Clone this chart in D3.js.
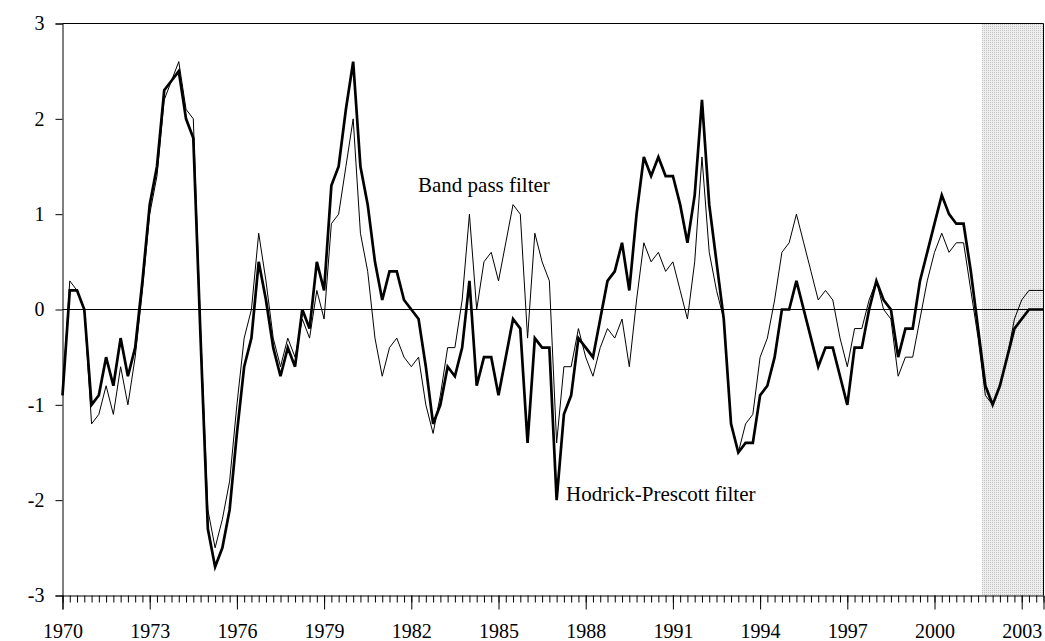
<!DOCTYPE html>
<html lang="en">
<head>
    <meta charset="UTF-8">
    <title>Band pass vs Hodrick-Prescott filter</title>
    <style>
        body { margin: 0; background: #fff; }
        svg text { font-family: "Liberation Serif", "Times New Roman", serif; fill: #000; }
    </style>
</head>
<body>
    <div id="chart"></div>
    <script src="https://d3js.org/d3.v7.min.js"></script>
    <script>
        // Quarterly series, first point 1970Q1
        const startYear = 1970;
        const hodrickPrescott = [
            -0.9, 0.2, 0.2, 0.0, -1.0, -0.9, -0.5, -0.8, -0.3, -0.7, -0.4, 0.3,
            1.1, 1.5, 2.3, 2.4, 2.5, 2.0, 1.8, -0.3, -2.3, -2.7, -2.5, -2.1,
            -1.3, -0.6, -0.3, 0.5, 0.1, -0.4, -0.7, -0.4, -0.6, 0.0, -0.2, 0.5,
            0.2, 1.3, 1.5, 2.1, 2.6, 1.5, 1.1, 0.5, 0.1, 0.4, 0.4, 0.1,
            0.0, -0.1, -0.6, -1.2, -1.0, -0.6, -0.7, -0.4, 0.3, -0.8, -0.5, -0.5,
            -0.9, -0.5, -0.1, -0.2, -1.4, -0.3, -0.4, -0.4, -2.0, -1.1, -0.9, -0.3,
            -0.4, -0.5, -0.1, 0.3, 0.4, 0.7, 0.2, 1.0, 1.6, 1.4, 1.6, 1.4,
            1.4, 1.1, 0.7, 1.2, 2.2, 1.1, 0.5, -0.1, -1.2, -1.5, -1.4, -1.4,
            -0.9, -0.8, -0.5, 0.0, 0.0, 0.3, 0.0, -0.3, -0.6, -0.4, -0.4, -0.7,
            -1.0, -0.4, -0.4, 0.0, 0.3, 0.1, 0.0, -0.5, -0.2, -0.2, 0.3, 0.6,
            0.9, 1.2, 1.0, 0.9, 0.9, 0.4, -0.2, -0.8, -1.0, -0.8, -0.5, -0.2,
            -0.1, 0.0, 0.0, 0.0
        ];
        const bandPass = [
            -0.9, 0.3, 0.2, 0.0, -1.2, -1.1, -0.8, -1.1, -0.6, -1.0, -0.5, 0.2,
            1.0, 1.4, 2.2, 2.4, 2.6, 2.1, 2.0, -0.2, -2.1, -2.5, -2.2, -1.8,
            -1.0, -0.3, 0.0, 0.8, 0.3, -0.3, -0.6, -0.3, -0.5, -0.1, -0.3, 0.2,
            -0.1, 0.9, 1.0, 1.5, 2.0, 0.8, 0.4, -0.3, -0.7, -0.4, -0.3, -0.5,
            -0.6, -0.5, -1.0, -1.3, -0.9, -0.4, -0.4, 0.1, 1.0, 0.0, 0.5, 0.6,
            0.3, 0.7, 1.1, 1.0, -0.3, 0.8, 0.5, 0.3, -1.4, -0.6, -0.6, -0.2,
            -0.5, -0.7, -0.4, -0.2, -0.3, -0.1, -0.6, 0.1, 0.7, 0.5, 0.6, 0.4,
            0.5, 0.2, -0.1, 0.5, 1.6, 0.6, 0.2, -0.1, -1.2, -1.5, -1.2, -1.1,
            -0.5, -0.3, 0.1, 0.6, 0.7, 1.0, 0.7, 0.4, 0.1, 0.2, 0.1, -0.3,
            -0.6, -0.2, -0.2, 0.1, 0.3, 0.0, -0.1, -0.7, -0.5, -0.5, -0.1, 0.3,
            0.6, 0.8, 0.6, 0.7, 0.7, 0.2, -0.3, -0.9, -1.0, -0.8, -0.5, -0.1,
            0.1, 0.2, 0.2, 0.2
        ];
        const yearLabels = [1970, 1973, 1976, 1979, 1982, 1985, 1988, 1991, 1994, 1997, 2000, 2003];
        const yTicks = [-3, -2, -1, 0, 1, 2, 3];
        const forecastStart = 2001.625;

        const width = 1045;
        const height = 641;
        const m = { left: 62.5, right: 1043.5, top: 23.5, bottom: 595.5 };

        const dates = hodrickPrescott.map((d, i) => startYear + i / 4);
        const lastDate = dates[dates.length - 1];

        const svg = d3.select("#chart").append("svg")
            .attr("width", width)
            .attr("height", height);

        const x = d3.scaleLinear().domain([startYear, lastDate]).range([m.left, m.right]);
        const y = d3.scaleLinear().domain([-3, 3]).range([m.bottom, m.top]);

        // stippled shading for the forecast period
        const pat = svg.append("defs").append("pattern")
            .attr("id", "stipple")
            .attr("width", 2).attr("height", 2)
            .attr("patternUnits", "userSpaceOnUse");
        pat.append("rect").attr("width", 2).attr("height", 2).attr("fill", "#eeeeee");
        pat.append("rect").attr("width", 1).attr("height", 1).attr("fill", "#c4c4c4");

        svg.append("rect")
            .attr("x", Math.round(x(forecastStart)))
            .attr("y", m.top)
            .attr("width", m.right - Math.round(x(forecastStart)))
            .attr("height", m.bottom - m.top)
            .attr("fill", "url(#stipple)");

        // zero line
        svg.append("line")
            .attr("x1", m.left).attr("x2", m.right)
            .attr("y1", y(0)).attr("y2", y(0))
            .attr("stroke", "#000").attr("stroke-width", 1);

        const line = d3.line()
            .x((d, i) => x(dates[i]))
            .y(d => y(d));

        svg.append("path")
            .datum(bandPass)
            .attr("d", line)
            .attr("fill", "none")
            .attr("stroke", "#000")
            .attr("stroke-width", 1);

        svg.append("path")
            .datum(hodrickPrescott)
            .attr("d", line)
            .attr("fill", "none")
            .attr("stroke", "#000")
            .attr("stroke-width", 2.7);

        // frame (top and right)
        svg.append("path")
            .attr("d", `M${m.left},${m.top}H${m.right}V${m.bottom}`)
            .attr("fill", "none")
            .attr("stroke", "#000")
            .attr("stroke-width", 1);

        const fmt = d => String(d);

        // x axis: quarterly minor ticks, labelled every 3 years
        svg.append("g")
            .attr("transform", `translate(0,${m.bottom})`)
            .call(d3.axisBottom(x).tickValues(dates).tickSize(7).tickFormat(""))
            .call(g => g.select(".domain").remove());

        svg.append("g")
            .attr("transform", `translate(0,${m.bottom})`)
            .call(d3.axisBottom(x).tickValues(yearLabels).tickSize(14).tickPadding(14).tickFormat(fmt))
            .call(g => g.selectAll("text").attr("font-size", 20).attr("font-family", "Liberation Serif"));

        // y axis
        svg.append("g")
            .attr("transform", `translate(${m.left},0)`)
            .call(d3.axisLeft(y).tickValues(yTicks).tickSize(7).tickPadding(11).tickFormat(fmt))
            .call(g => g.selectAll("text").attr("font-size", 20).attr("font-family", "Liberation Serif"));

        // series labels
        svg.append("text")
            .attr("x", 418).attr("y", 192)
            .attr("font-size", 21)
            .text("Band pass filter");

        svg.append("text")
            .attr("x", 566).attr("y", 501)
            .attr("font-size", 21)
            .text("Hodrick-Prescott filter");
    </script>
</body>
</html>
